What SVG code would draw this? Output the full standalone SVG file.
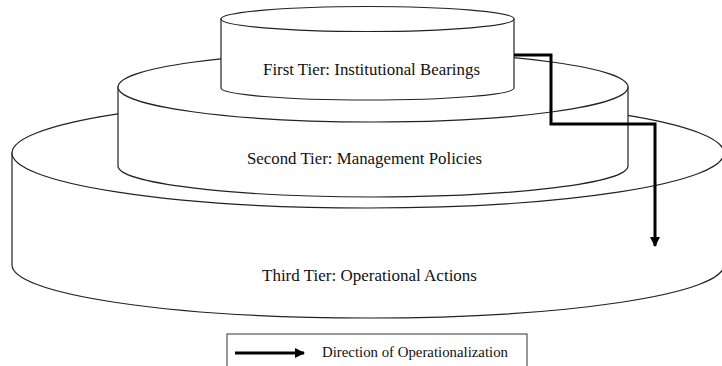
<svg xmlns="http://www.w3.org/2000/svg" width="722" height="366" viewBox="0 0 722 366">
<defs>
<style>
.tier{fill:#fff;stroke:#222;stroke-width:1.2}
.lbl{font-family:'Liberation Serif','DejaVu Serif',serif;font-size:17.5px;fill:#111}
.flow{fill:none;stroke:#000;stroke-width:3}
.leg{font-family:'Liberation Serif','DejaVu Serif',serif;font-size:14px;fill:#111}
</style>
<marker id="ah" viewBox="0 0 10 10" refX="9" refY="5" markerWidth="3.4" markerHeight="3.4" orient="auto" markerUnits="strokeWidth">
<path d="M0,0 L10,5 L0,10 Z" fill="#000"/>
</marker>
</defs>
<rect width="722" height="366" fill="#fff"/>
<g id="tier3">
<path class="tier" d="M12 153 L12 265 A356 53 0 0 0 724 265 L724 153 Z"/>
<ellipse class="tier" cx="368" cy="153" rx="356" ry="55"/>
<text class="lbl" x="262" y="281" textLength="215" lengthAdjust="spacingAndGlyphs">Third Tier: Operational Actions</text>
</g>
<g id="tier2">
<path class="tier" d="M118 87 L118 166 A255 31 0 0 0 628 166 L628 87 Z"/>
<ellipse class="tier" cx="373" cy="87" rx="255" ry="35"/>
<text class="lbl" x="247" y="164" textLength="235" lengthAdjust="spacingAndGlyphs">Second Tier: Management Policies</text>
</g>
<g id="tier1">
<path class="tier" d="M221 19 L221 88 A146.5 12 0 0 0 514 88 L514 19 Z"/>
<ellipse class="tier" cx="367.5" cy="19" rx="146.5" ry="12.5"/>
<text class="lbl" x="263" y="75" textLength="217" lengthAdjust="spacingAndGlyphs">First Tier: Institutional Bearings</text>
</g>
<g id="connectors">
<path class="flow" d="M514 55 L551 55 L551 124 L655 124 L655 246" marker-end="url(#ah)"/>
</g>
<g id="legend">
<rect x="227" y="334" width="300" height="40" fill="#fff" stroke="#333" stroke-width="1"/>
<line class="flow" x1="235" y1="353" x2="304" y2="353" marker-end="url(#ah)"/>
<text class="leg" x="322" y="357" textLength="186" lengthAdjust="spacingAndGlyphs">Direction of Operationalization</text>
</g>
</svg>
